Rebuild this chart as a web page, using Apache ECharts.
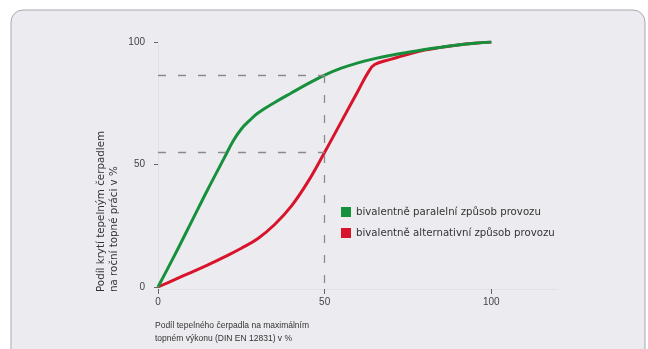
<!DOCTYPE html>
<html><head><meta charset="utf-8">
<script src="https://cdn.jsdelivr.net/npm/echarts@6/dist/echarts.min.js"></script>
<style>html,body{margin:0;padding:0;background:#fff}#c{width:648px;height:349px}</style>
</head><body><div id="c"></div>
<script>
const parallelX = [0,5,10,15,20,22.5,25,27.5,30,35,40,45,50,55,60,65,70,75,80,85,90,95,100];
const parallelShare = [0,13,26.5,40,53,59.5,64.5,68,71,75.3,79.2,83,86.5,89.3,91.5,93.2,94.6,95.8,96.9,97.9,98.8,99.5,100];
const alternativeX = [0,5,10,15,20,25,30,35,40,45,50,55,60,63,65,70,75,80,85,90,95,100];
const alternativeShare = [0,3,6,9,12.3,15.8,19.8,25.5,33,43,55,67.5,80,87.5,90.8,93,95,96.7,97.8,98.8,99.5,100];
const xTicks = [0,50,100];
const yTicks = [0,50,100];
const seriesNames = ['bivalentně paralelní způsob provozu','bivalentně alternativní způsob provozu'];
const guideX = 50, guideHigh = 86.5, guideLow = 55;

const chart = echarts.init(document.getElementById('c'), null, {renderer:'canvas'});
const pair = (xs, ys) => xs.map((x,i)=>[x, ys[i]]);
const dash = {color:'#8a8a8a', type:[8,12], width:1.3};
chart.setOption({
  animation:false,
  backgroundColor:'#ffffff',
  graphic:[
    {type:'rect', shape:{x:11,y:10,width:634,height:360,r:12}, style:{fill:'#ececf0', stroke:'#a9a9ad', lineWidth:1}, z:-10},
    {type:'text', x:101, y:292, rotation:Math.PI/2, style:{text:'Podíl krytí tepelným čerpadlem', fontSize:10.3, fontFamily:'DejaVu Sans', fill:'#333', align:'left', verticalAlign:'middle'}},
    {type:'text', x:114, y:292, rotation:Math.PI/2, style:{text:'na roční topné práci v %', fontSize:10.3, fontFamily:'DejaVu Sans', fill:'#333', align:'left', verticalAlign:'middle'}},
    {type:'text', x:155, y:326, style:{text:'Podíl tepelného čerpadla na maximálním', fontSize:8.5, fontFamily:'Liberation Sans', fill:'#333', align:'left', verticalAlign:'middle'}},
    {type:'text', x:155, y:339, style:{text:'topném výkonu (DIN EN 12831) v %', fontSize:8.5, fontFamily:'Liberation Sans', fill:'#333', align:'left', verticalAlign:'middle'}}
  ],
  grid:{left:158, right:90, top:42, bottom:62},
  legend:{orient:'vertical', left:336, top:202, itemGap:11, itemWidth:10, itemHeight:10, icon:'rect',
    textStyle:{fontSize:10.2, fontFamily:'DejaVu Sans', color:'#333'}, data:seriesNames},
  xAxis:{type:'value', min:0, max:120, interval:50,
    axisLine:{show:true, onZero:false, lineStyle:{color:'#e2e2e6', width:1}},
    axisTick:{show:true, inside:false, length:5, customValues:xTicks, lineStyle:{color:'#666'}},
    axisLabel:{customValues:xTicks, fontSize:10, fontFamily:'Liberation Sans', color:'#444', margin:8},
    splitLine:{show:false}, offset:2},
  yAxis:{type:'value', min:0, max:100, interval:50,
    axisLine:{show:true, lineStyle:{color:'#e2e2e6', width:1}},
    axisTick:{show:true, length:4, customValues:yTicks, lineStyle:{color:'#666'}},
    axisLabel:{customValues:yTicks, fontSize:10, fontFamily:'Liberation Sans', color:'#444', margin:7},
    splitLine:{show:false}, offset:6},
  series:[
    {name:seriesNames[0], type:'line', smooth:0.4, symbol:'none', data:pair(parallelX, parallelShare),
      lineStyle:{color:'#16903c', width:3}, itemStyle:{color:'#16903c'}, z:3,
      markLine:{silent:true, symbol:'none', label:{show:false}, lineStyle:dash, data:[
        [{coord:[0,guideHigh]},{coord:[guideX,guideHigh]}],
        [{coord:[0,guideLow]},{coord:[guideX,guideLow]}],
        [{coord:[guideX,guideHigh]},{coord:[guideX,0]}]
      ]}},
    {name:seriesNames[1], type:'line', smooth:0.4, symbol:'none', data:pair(alternativeX, alternativeShare),
      lineStyle:{color:'#d8142c', width:3}, itemStyle:{color:'#d8142c'}, z:2}
  ]
});
</script></body></html>
